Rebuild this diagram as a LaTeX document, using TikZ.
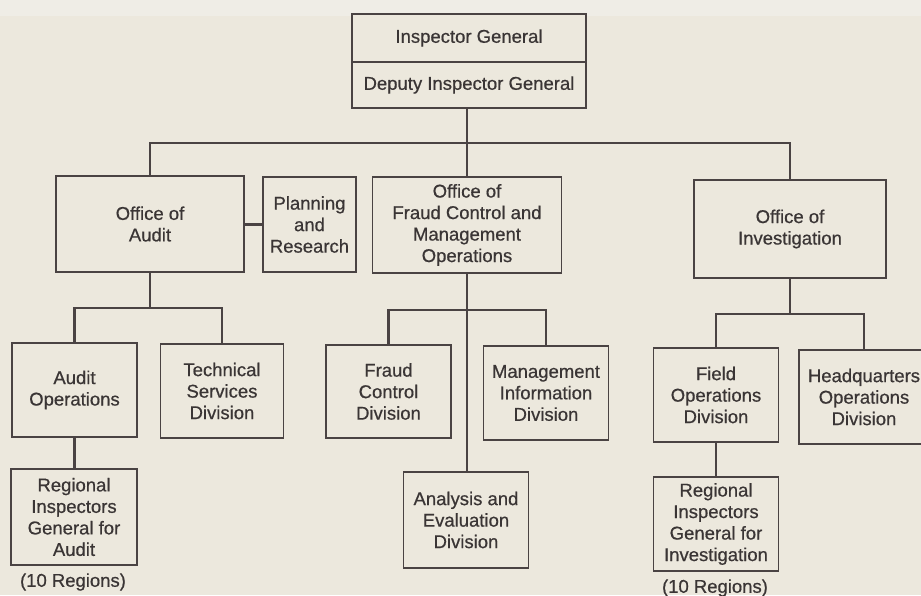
\documentclass[tikz,border=0pt]{standalone}
\usepackage{fontspec}
\setmainfont{Liberation Sans}[RawFeature={embolden=0.6}]
\definecolor{paper}{HTML}{ECE8DD}
\definecolor{band}{HTML}{EFEDE6}
\definecolor{ink}{HTML}{4A4343}
\definecolor{txt}{HTML}{3A3535}
\tikzset{
  box/.style={draw=ink, line width=1.9pt, fill=paper, text=txt, inner sep=0pt,
    align=center, font=\fontsize{18.5}{21.5}\selectfont},
  link/.style={draw=ink, line width=2.5pt, line cap=rect},
  note/.style={text=txt, inner sep=0pt, font=\fontsize{18.5}{21.5}\selectfont}
}
\begin{document}
\begin{tikzpicture}[x=1pt,y=-1pt]
\useasboundingbox (0,0) rectangle (921,595);
\fill[paper] (0,0) rectangle (921,595);
\fill[band] (0,0) rectangle (921,16);
\clip (0,0) rectangle (921,595);

% bus coordinates
\coordinate (bus1) at (467,143);
\coordinate (bus2) at (150,308);
\coordinate (bus3) at (467,310);
\coordinate (bus4) at (790,314);

% boxes
\node[box, minimum width=234pt, minimum height=48pt] (ig) at (469,38) {Inspector General};
\node[box, minimum width=234pt, minimum height=46pt] (dig) at (469,85) {Deputy Inspector General};

\node[box, minimum width=188pt, minimum height=96pt] (oa) at (150,224) {Office of\\Audit};
\node[box, minimum width=93pt, minimum height=95pt] (pr) at (309.5,224.5) {Planning\\and\\Research};
\node[box, minimum width=189pt, minimum height=96pt] (fcmo) at (467,225) {Office of\\Fraud Control and\\Management\\Operations};
\node[box, minimum width=192pt, minimum height=98pt] (oi) at (790,229) {Office of\\Investigation};

\node[box, minimum width=125pt, minimum height=94pt] (ao) at (74.5,390) {Audit\\Operations};
\node[box, minimum width=123pt, minimum height=94pt] (tsd) at (222,391) {Technical\\Services\\Division};
\node[box, minimum width=125pt, minimum height=93pt] (fcd) at (388.5,391.5) {Fraud\\Control\\Division};
\node[box, minimum width=125pt, minimum height=94pt] (mid) at (546,393) {Management\\Information\\Division};
\node[box, minimum width=125pt, minimum height=96pt] (aed) at (466,520) {Analysis and\\Evaluation\\Division};
\node[box, minimum width=125pt, minimum height=94pt] (fod) at (716,395) {Field\\Operations\\Division};
\node[box, minimum width=130pt, minimum height=94pt] (hq) at (864,397) {Headquarters\\Operations\\Division};

\node[box, minimum width=126pt, minimum height=96pt] (riga) at (74,517) {Regional\\Inspectors\\General for\\Audit};
\node[box, minimum width=125pt, minimum height=94pt] (rigi) at (716,524) {Regional\\Inspectors\\General for\\Investigation};

\node[note] (n1) at (73,582) {(10 Regions)};
\node[note] (n2) at (715,588) {(10 Regions)};

% links
\path[link] (dig.south -| bus1) -- (bus1);
\path[link] (oa.north) -- (oa.north |- bus1) -- (oi.north |- bus1) -- (oi.north);
\path[link] (bus1) -- (fcmo.north);
\path[link] (oa.east |- pr.west) -- (pr.west);

\path[link] (oa.south) -- (bus2);
\path[link] (ao.north) -- (ao.north |- bus2) -- (tsd.north |- bus2) -- (tsd.north);
\path[link] (ao.south) -- (riga.north -| ao.south);

\path[link] (fcmo.south) -- (aed.north -| fcmo.south);
\path[link] (fcd.north) -- (fcd.north |- bus3) -- (mid.north |- bus3) -- (mid.north);

\path[link] (oi.south) -- (bus4);
\path[link] (fod.north) -- (fod.north |- bus4) -- (hq.north |- bus4) -- (hq.north);
\path[link] (fod.south) -- (rigi.north);
\end{tikzpicture}
\end{document}
